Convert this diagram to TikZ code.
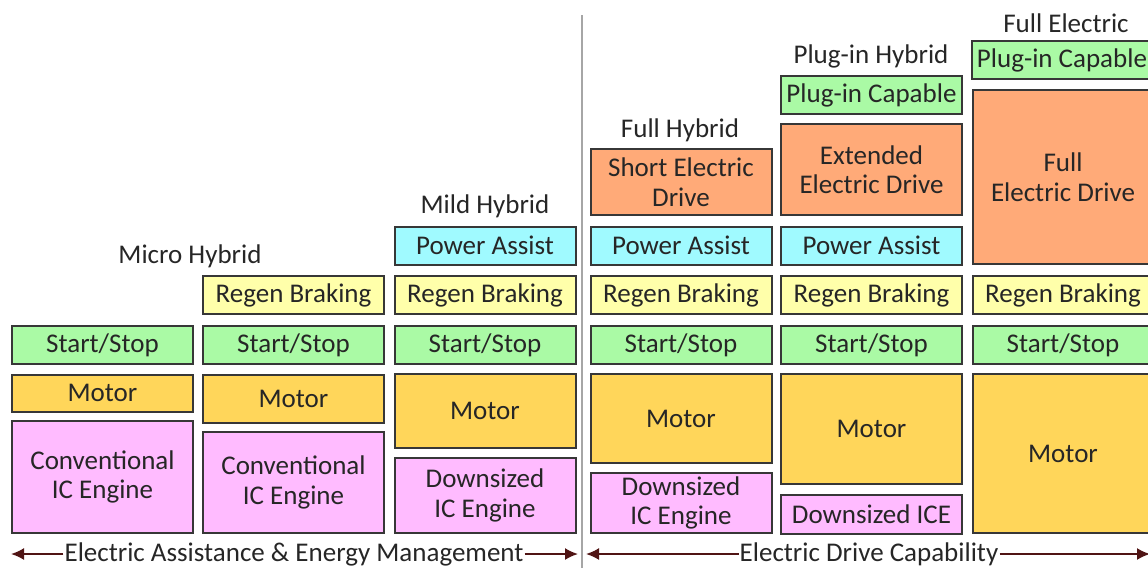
\documentclass[tikz,border=0pt]{standalone}
\usepackage{fontspec}
\setmainfont{Carlito}
\usetikzlibrary{arrows.meta}
\definecolor{stopgreen}{RGB}{170,250,165}
\definecolor{motorcolor}{RGB}{255,214,90}
\definecolor{enginepink}{RGB}{255,187,255}
\definecolor{regenyellow}{RGB}{255,255,170}
\definecolor{assistcyan}{RGB}{160,250,255}
\definecolor{driveorange}{RGB}{255,170,120}
\definecolor{arrowmaroon}{RGB}{80,20,20}
\definecolor{edgegray}{RGB}{55,55,55}

\begin{document}
\begin{tikzpicture}[x=1pt, y=-1pt,
    every node/.style={font=\fontsize{27}{29.5}\selectfont, text=black!85},
    blk/.style={draw=edgegray, line width=2pt, inner sep=0pt, align=center, minimum width=181pt},
    axis/.style={arrowmaroon, line width=1.8pt, -{Latex[length=13pt, width=12pt]}}]
    \clip (0,0) rectangle (1148,568);

    % Divider
    \draw[gray!70, line width=2.5pt] (582,15) -- (582,568);

    % Micro Hybrid
    \node (micro) at (190,256) {Micro Hybrid};
    \node[blk, fill=stopgreen, minimum height=38pt] (stopA) at (102.5,345) {Start/Stop};
    \node[blk, fill=motorcolor, minimum height=37pt] (motorA) at (102.5,393) {Motor};
    \node[blk, fill=enginepink, minimum height=112pt] (engineA) at (102.5,477) {Conventional\\IC Engine};

    % Regen column
    \node[blk, fill=regenyellow, minimum height=38pt] (regenB) at (293.5,295) {Regen Braking};
    \node[blk, fill=stopgreen, minimum height=38pt] (stopB) at (293.5,345) {Start/Stop};
    \node[blk, fill=motorcolor, minimum height=48pt] (motorB) at (293.5,398.5) {Motor};
    \node[blk, fill=enginepink, minimum height=101pt] (engineB) at (293.5,482.5) {Conventional\\IC Engine};

    % Mild Hybrid
    \node (mild) at (485,206) {Mild Hybrid};
    \node[blk, fill=assistcyan, minimum height=38pt] (assistC) at (485,245.5) {Power Assist};
    \node[blk, fill=regenyellow, minimum height=38pt] (regenC) at (485,295) {Regen Braking};
    \node[blk, fill=stopgreen, minimum height=38pt] (stopC) at (485,345) {Start/Stop};
    \node[blk, fill=motorcolor, minimum height=74pt] (motorC) at (485,411) {Motor};
    \node[blk, fill=enginepink, minimum height=75pt] (engineC) at (485,495.5) {Downsized\\IC Engine};

    % Full Hybrid
    \node (full) at (680,130) {Full Hybrid};
    \node[blk, fill=driveorange, minimum height=66pt] (driveD) at (681,182) {Short Electric\\Drive};
    \node[blk, fill=assistcyan, minimum height=38pt] (assistD) at (681,245.5) {Power Assist};
    \node[blk, fill=regenyellow, minimum height=38pt] (regenD) at (681,295) {Regen Braking};
    \node[blk, fill=stopgreen, minimum height=38pt] (stopD) at (681,345) {Start/Stop};
    \node[blk, fill=motorcolor, minimum height=89pt] (motorD) at (681,418.5) {Motor};
    \node[blk, fill=enginepink, minimum height=60pt] (engineD) at (681,503) {Downsized\\IC Engine};

    % Plug-in Hybrid
    \node (plugin) at (871,56) {Plug-in Hybrid};
    \node[blk, fill=stopgreen, minimum height=38pt] (plugE) at (871.5,95) {Plug-in Capable};
    \node[blk, fill=driveorange, minimum height=91pt] (driveE) at (871.5,169.5) {Extended\\Electric Drive};
    \node[blk, fill=assistcyan, minimum height=38pt] (assistE) at (871.5,245.5) {Power Assist};
    \node[blk, fill=regenyellow, minimum height=38pt] (regenE) at (871.5,295) {Regen Braking};
    \node[blk, fill=stopgreen, minimum height=38pt] (stopE) at (871.5,345) {Start/Stop};
    \node[blk, fill=motorcolor, minimum height=110pt] (motorE) at (871.5,429) {Motor};
    \node[blk, fill=enginepink, minimum height=39pt] (engineE) at (871.5,514) {Downsized ICE};

    % Full Electric
    \node (electric) at (1066,23) {Full Electric};
    \node[blk, fill=stopgreen, minimum height=38pt] (plugF) at (1062,60) {Plug-in Capable};
    \node[blk, fill=driveorange, minimum height=174pt] (driveF) at (1063,177) {Full\\Electric Drive};
    \node[blk, fill=regenyellow, minimum height=38pt] (regenF) at (1063,295) {Regen Braking};
    \node[blk, fill=stopgreen, minimum height=38pt] (stopF) at (1063,345) {Start/Stop};
    \node[blk, fill=motorcolor, minimum height=159pt] (motorF) at (1063,453.5) {Motor};

    % Axes
    \node[inner sep=1pt] (assistlbl) at (294,554) {Electric Assistance \& Energy Management};
    \node[inner sep=1pt] (drivelbl) at (869,554) {Electric Drive Capability};
    \coordinate (assistL) at (11,554);
    \coordinate (assistR) at (578,554);
    \coordinate (driveL) at (586,554);
    \coordinate (driveR) at (1150,554);
    \draw[axis] (assistlbl) -- (assistL);
    \draw[axis] (assistlbl) -- (assistR);
    \draw[axis] (drivelbl) -- (driveL);
    \draw[axis] (drivelbl) -- (driveR);
\end{tikzpicture}
\end{document}
